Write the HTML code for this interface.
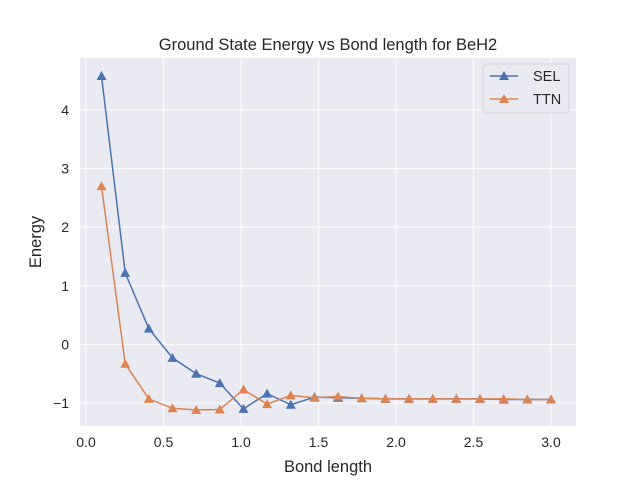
<!DOCTYPE html>
<html><head><meta charset="utf-8"><style>
body{margin:0;background:#fff;font-family:"Liberation Sans","DejaVu Sans",sans-serif}
</style></head><body>
<svg id="chart" width="640" height="480" xmlns="http://www.w3.org/2000/svg" font-family="Liberation Sans, DejaVu Sans, sans-serif">
<rect x="0" y="0" width="640" height="480" fill="#fff"/>
<rect x="80" y="58" width="496" height="368" fill="#eaeaf2"/>
<g id="grid"></g><g id="ticks"></g><g id="series"></g>
<text x="328" y="50" text-anchor="middle" font-size="16.5" fill="#262626">Ground State Energy vs Bond length for BeH2</text>
<text x="328" y="472" text-anchor="middle" font-size="16.5" fill="#262626">Bond length</text>
<text transform="translate(41,242) rotate(-90)" text-anchor="middle" font-size="16.5" fill="#262626">Energy</text>
<g>
<rect x="483" y="64" width="86" height="49" rx="3" fill="#eaeaf2" stroke="#ccc" stroke-width="0.8" opacity="0.9"/>
<g><line x1="490" y1="76" x2="518" y2="76" stroke="#4c72b0" stroke-width="1.5"/><path d="M504,71 L509,80 L499,80Z" fill="#4c72b0"/><text x="533" y="81" font-size="14.5" fill="#262626">SEL</text></g>
<g><line x1="490" y1="99" x2="518" y2="99" stroke="#dd8452" stroke-width="1.5"/><path d="M504,94 L509,103 L499,103Z" fill="#dd8452"/><text x="533" y="104" font-size="14.5" fill="#262626">TTN</text></g>
</g>
</svg>
<script>
const bondLengths=[0.1,0.253,0.405,0.558,0.711,0.863,1.016,1.168,1.321,1.474,1.626,1.779,1.932,2.084,2.237,2.389,2.542,2.695,2.847,3.0];
const selEnergy=[4.58,1.22,0.27,-0.23,-0.5,-0.66,-1.1,-0.84,-1.03,-0.9,-0.91,-0.92,-0.93,-0.93,-0.93,-0.93,-0.93,-0.94,-0.94,-0.94];
const ttnEnergy=[2.7,-0.33,-0.93,-1.09,-1.12,-1.11,-0.77,-1.02,-0.87,-0.91,-0.89,-0.92,-0.93,-0.93,-0.93,-0.93,-0.93,-0.93,-0.94,-0.94];
const xTicks=[0.0,0.5,1.0,1.5,2.0,2.5,3.0];
const xTickLabels=["0.0","0.5","1.0","1.5","2.0","2.5","3.0"];
const yTicks=[-1,0,1,2,3,4];
const yTickLabels=["−1","0","1","2","3","4"];
const NS="http://www.w3.org/2000/svg";
function xs(v){return 86+v*155;}
function ys(v){return 344.4-v*58.6;}
function mk(tag,attrs,parent){const e=document.createElementNS(NS,tag);for(const k in attrs)e.setAttribute(k,attrs[k]);parent.appendChild(e);return e;}
const grid=document.getElementById('grid'),ticks=document.getElementById('ticks'),series=document.getElementById('series');
xTicks.forEach((t,i)=>{const x=xs(t);
const g=mk('line',{x1:x,x2:x,y1:58,y2:426,stroke:'#fff','stroke-width':1},grid);


const l=mk('text',{x:x,y:447,'text-anchor':'middle','font-size':'14',fill:'#262626'},ticks);l.textContent=xTickLabels[i];

});
yTicks.forEach((t,i)=>{const y=ys(t);
const g=mk('line',{x1:80,x2:576,y1:y,y2:y,stroke:'#fff','stroke-width':1},grid);


const l=mk('text',{x:69,y:y+5,'text-anchor':'end','font-size':'14',fill:'#262626'},ticks);l.textContent=yTickLabels[i];

});
function draw(vals,color,name){
const pts=bondLengths.map((b,i)=>xs(b)+','+ys(vals[i])).join(' ');
const pl=mk('polyline',{points:pts,fill:'none',stroke:color,'stroke-width':1.5},series);


bondLengths.forEach((b,i)=>{const x=xs(b),y=ys(vals[i]);
const m=mk('path',{d:`M${x},${y-5} L${x+5},${y+4} L${x-5},${y+4}Z`,fill:color},series);

});}
draw(selEnergy,'#4c72b0','sel');
draw(ttnEnergy,'#dd8452','ttn');
</script>
</body></html>
